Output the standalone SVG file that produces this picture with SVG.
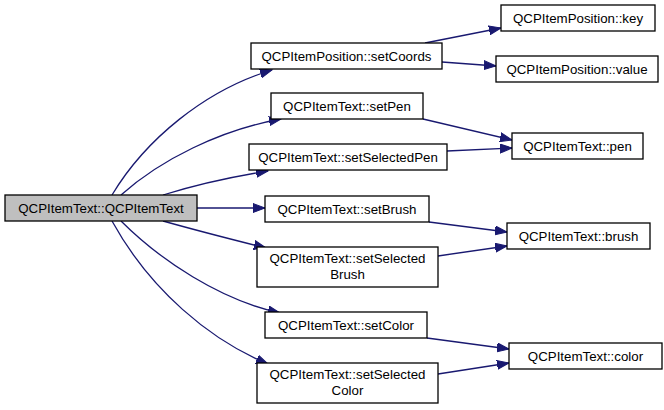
<svg xmlns="http://www.w3.org/2000/svg" width="664" height="410" viewBox="0 0 664 410">
<style>
.n rect{fill:#fff;stroke:#000;stroke-width:1.3}
.n.main rect{fill:#bfbfbf}
text{font-family:"Liberation Sans",Arial,sans-serif;font-size:13.3px;fill:#000;text-anchor:middle}
.e path{fill:none;stroke:#191970;stroke-width:1.3;marker-end:url(#ah)}
</style>
<defs>
<marker id="ah" markerUnits="userSpaceOnUse" markerWidth="14" markerHeight="10" refX="12" refY="5" orient="auto" viewBox="0 0 14 10">
<polygon points="0,0.5 12,5 0,9.5" fill="#191970" stroke="#191970"/>
</marker>
</defs>
<rect width="664" height="410" fill="#fff"/>
<g class="e">
<path d="M112,195 C145,140 205,90 272,70"/>
<path d="M121,195 C160,160 220,130 281,119"/>
<path d="M163,195 C195,185 230,177 268,171"/>
<path d="M197,208 L265,208"/>
<path d="M163,221 C195,230 230,239 266,248"/>
<path d="M121,221 C160,260 220,300 280,313"/>
<path d="M112,221 C150,290 210,340 268,364"/>
<path d="M425,43 L501,28"/>
<path d="M442,62 L496,66"/>
<path d="M423,119 L512,140"/>
<path d="M447,151 L512,148"/>
<path d="M429,222 L507,232"/>
<path d="M438,256 L507,246"/>
<path d="M427,338 L509,349"/>
<path d="M438,374 L509,363"/>
</g>
<g id="main" class="n main"><rect x="5" y="195" width="192" height="26"/><text x="101" y="213">QCPItemText::QCPItemText</text></g>
<g id="setCoords" class="n"><rect x="251" y="43" width="191" height="26"/><text x="346.5" y="61">QCPItemPosition::setCoords</text></g>
<g id="key" class="n"><rect x="501" y="5" width="154" height="26"/><text x="578" y="23">QCPItemPosition::key</text></g>
<g id="value" class="n"><rect x="496" y="56" width="162" height="26"/><text x="577" y="74">QCPItemPosition::value</text></g>
<g id="setPen" class="n"><rect x="271" y="93" width="152" height="26"/><text x="347" y="111">QCPItemText::setPen</text></g>
<g id="pen" class="n"><rect x="512" y="133" width="131" height="26"/><text x="577.5" y="151">QCPItemText::pen</text></g>
<g id="setSelectedPen" class="n"><rect x="249" y="144" width="198" height="26"/><text x="348" y="162">QCPItemText::setSelectedPen</text></g>
<g id="setBrush" class="n"><rect x="265" y="196" width="164" height="26"/><text x="347" y="214">QCPItemText::setBrush</text></g>
<g id="brush" class="n"><rect x="507" y="223" width="143" height="26"/><text x="578.5" y="241">QCPItemText::brush</text></g>
<g id="setSelectedBrush" class="n"><rect x="257" y="247" width="181" height="40"/><text x="347.5" y="263">QCPItemText::setSelected</text><text x="347.5" y="279">Brush</text></g>
<g id="setColor" class="n"><rect x="265" y="312" width="162" height="26"/><text x="346" y="330">QCPItemText::setColor</text></g>
<g id="color" class="n"><rect x="509" y="343" width="153" height="26"/><text x="585.5" y="361">QCPItemText::color</text></g>
<g id="setSelectedColor" class="n"><rect x="257" y="363" width="181" height="40"/><text x="347.5" y="379">QCPItemText::setSelected</text><text x="347.5" y="395">Color</text></g>
</svg>
